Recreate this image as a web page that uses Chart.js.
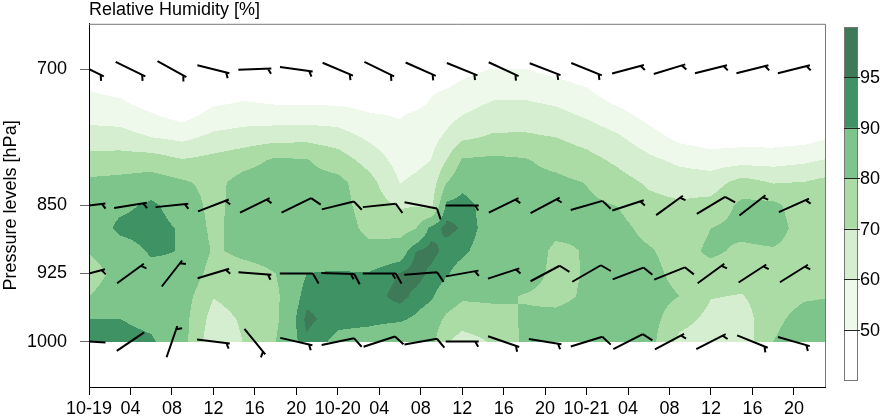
<!DOCTYPE html>
<html><head><meta charset="utf-8">
<script src="https://cdn.jsdelivr.net/npm/chart.js@4.4.1/dist/chart.umd.min.js"></script>
<style>html,body{margin:0;padding:0;background:#fff;}canvas{display:block;}</style>
</head><body>
<canvas id="c" width="880" height="418"></canvas>
<script>
// ---- data: relative humidity (%) at grid hours (from 10-19 00:00) and pressure levels ----
const gridHours = [0,3,6,9,12,15,18,21,24,27,30,31.5,33,34.5,36,39,42,45,48,51,54,57,60,63,66,69,71];
const levels = [700,725,750,775,800,825,850,875,900,925,950,975,1000];
const rh700  = [44,41,38,38,38,41,38,38,36,37,36,38,40,44,47,50.5,50.2,47,44,39,35,33,32,32,32,32,33];
const rh725  = [50.3,48,42,42,44.5,47,44.6,44.3,43,43,40,43,49.2,51,53.5,57.4,57.6,55.2,51.5,44,40,36,36,36,36,36,37];
const rh750  = [56.5,55.3,50.8,46,53,54.7,54.2,54.3,54.5,50.7,49.2,51.5,52.8,56,59.7,64.3,64.6,62.8,58.5,53.3,46.5,40,40,40,40,41,42];
const rh775  = [64.2,64,60,57.5,62.4,64.7,66.4,67,64.5,58.3,53,54.5,56.4,62,68.1,71.4,71.6,70,66.2,61.4,54.2,47.3,44.3,45.5,45,46,49];
const rh800  = [73.8,74.4,74.7,70.5,73,76.3,81.5,80.5,75.2,66,56.2,57.5,60,70,81,82,80.8,77,73.3,68,62.2,57.7,55.2,55.9,56,58,60.4];
const rh825  = [82,83,85,81.5,77,84,85,83,83,74,59.7,62,64.4,80,87,84,83,82.5,79.7,74,68.6,65.5,65.2,74.2,69.5,70.5,73];
const rh850  = [85,88,91.5,86,77,85,86.5,86,84,75.5,68.8,69.5,67,92,93.5,85,85,84,82,79.8,73,71.5,73.2,82.5,82.5,74,75];
const rh875  = [84,92,93,89,77.5,85,86,87,86,77,75.7,79.5,92.2,96.5,94.5,85.5,85,82,81,83,77,74,80,83,85,75,76];
const rh900  = [80.5,86,91,89.7,79,82,83,88.5,88,83,85.3,94.7,97,93,91.5,85,85,78.5,80.5,84,81,76,82,78,79,76,77];
const rh925  = [76,83,87.5,88.5,76,77,80,90,90.3,90.5,95.3,97.5,93.7,90.8,87,84,84,78,80.5,84,83,77,76,74,75,77,78];
const rh950  = [80,85,85,85,70.5,74,78,93,92.5,92.5,97,93.5,91,86,81.5,82,79.5,78,81,84,84,80,70.5,69.5,76,79,79.5];
const rh975  = [90,90,88,84,66,71.5,78,96.5,92,91.5,91,89,86,78,74.5,76,81,82,83,84,84,74,67,65,78,83,84];
const rh1000 = [92,92.5,91,84,63,70.5,80,94,88,87,84,85,83,71,66,71,82,84,84,84,84,67,64,64,80,85,85];

// ---- axes ----
const xTickHours  = [0,4,8,12,16,20,24,28,32,36,40,44,48,52,56,60,64,68];
const xTickLabels = ['10-19','04','08','12','16','20','10-20','04','08','12','16','20','10-21','04','08','12','16','20'];
const yTickLevels = [700,850,925,1000];

// ---- colour classes ----
const rhBreaks = [50,60,70,80,90,95];
const rhColors = ['#ffffff','#eef8eb','#d5eecf','#acdca6','#7dc58a','#3f9264','#3e7958'];

// ---- wind barbs: direction of staff (deg, clockwise from up) and speed ----
const barbHours  = [0,4,8,12,16,20,24,28,32,36,40,44,48,52,56,60,64,68];
const dir700  = [116,116,119,104,88,98,113,116,114,112,115,111,112,75,73,76,76,76];
const spd700  = [5,5,5,5,5,5,5,5,5,5,5,5,5,5,5,5,5,5];
const dir850  = [83,81,84,69,64,64,76,84,101,90,64,62,74,72,54,59,52,66];
const spd850  = [5,5,5,5,5,10,10,10,10,5,5,5,10,5,5,10,5,5];
const dir925  = [75,54,38,73,94,90,92,90,86,80,72,62,60,69,68,54,57,58];
const spd925  = [5,5,5,5,5,10,15,15,10,5,5,10,10,10,10,5,5,5];
const dir1000 = [273,56,19,97,141,103,78,72,80,90,109,99,73,63,62,63,112,106];
const spd1000 = [5,0,5,5,5,5,10,10,10,5,5,5,10,10,5,5,5,5];

const rhGrid = [rh700,rh725,rh750,rh775,rh800,rh825,rh850,rh875,rh900,rh925,rh950,rh975,rh1000];
const barbSets = [
  {p:700, dir:dir700, spd:spd700},
  {p:850, dir:dir850, spd:spd850},
  {p:925, dir:dir925, spd:spd925},
  {p:1000, dir:dir1000, spd:spd1000}
];

const FONT = "'Liberation Sans', Arial, Helvetica, sans-serif";
Chart.defaults.font.family = FONT;
Chart.defaults.font.size = 18;
Chart.defaults.color = '#000';

function hexToRgb(h){ return [parseInt(h.substr(1,2),16),parseInt(h.substr(3,2),16),parseInt(h.substr(5,2),16)]; }
const rgbColors = rhColors.map(hexToRgb);
function classOf(v){ let k=0; while(k<rhBreaks.length && v>=rhBreaks[k]) k++; return k; }
function segIndex(arr, v){ let i=0; while(i<arr.length-2 && v>arr[i+1]) i++; return i; }

const heatPlugin = {
  id:'heat',
  beforeDraw(chart){
    const {ctx, chartArea:a, scales:{x,y}} = chart;
    const yTop = Math.round(y.getPixelForValue(levels[0]));
    const yBot = Math.round(y.getPixelForValue(levels[levels.length-1]));
    const x0 = Math.round(a.left), x1 = Math.round(a.right);
    const w = x1-x0, h = yBot-yTop;
    const img = ctx.createImageData(w,h);
    const colI = [], colF = [];
    for(let px=0; px<w; px++){
      let t = x.getValueForPixel(x0+px+0.5);
      t = Math.max(gridHours[0], Math.min(gridHours[gridHours.length-1], t));
      const i = segIndex(gridHours,t);
      colI.push(i); colF.push((t-gridHours[i])/(gridHours[i+1]-gridHours[i]));
    }
    for(let py=0; py<h; py++){
      let p = y.getValueForPixel(yTop+py+0.5);
      p = Math.max(levels[0], Math.min(levels[levels.length-1], p));
      const j = segIndex(levels,p);
      const g = (p-levels[j])/(levels[j+1]-levels[j]);
      const r0 = rhGrid[j], r1 = rhGrid[j+1];
      for(let px=0; px<w; px++){
        const i = colI[px], f = colF[px];
        const a0 = r0[i]+(r0[i+1]-r0[i])*f;
        const a1 = r1[i]+(r1[i+1]-r1[i])*f;
        const v = a0+(a1-a0)*g;
        const c = rgbColors[classOf(v)];
        const o = (py*w+px)*4;
        img.data[o]=c[0]; img.data[o+1]=c[1]; img.data[o+2]=c[2]; img.data[o+3]=255;
      }
    }
    ctx.putImageData(img, x0, yTop);
  }
};

function drawBarb(ctx, cx, cy, bearing, speed){
  const L=16.5, FULL=11.5, HALF=6, SP=3.5;
  const r = bearing*Math.PI/180, ux=Math.sin(r), uy=-Math.cos(r);
  const fr = (bearing+60)*Math.PI/180, fx=Math.sin(fr), fy=-Math.cos(fr);
  const hx=cx+L*ux, hy=cy+L*uy;
  ctx.beginPath();
  ctx.moveTo(cx-L*ux, cy-L*uy); ctx.lineTo(hx,hy);
  const n10=Math.floor(speed/10), n5=(speed%10)>=5?1:0;
  let d=0;
  for(let k=0;k<n10;k++){ const bx=hx-d*ux, by=hy-d*uy; ctx.moveTo(bx,by); ctx.lineTo(bx+FULL*fx,by+FULL*fy); d+=SP; }
  if(n5){ if(n10===0) d=SP; const bx=hx-d*ux, by=hy-d*uy; ctx.moveTo(bx,by); ctx.lineTo(bx+HALF*fx,by+HALF*fy); }
  ctx.stroke();
}

const barbPlugin = {
  id:'barbs',
  afterDatasetsDraw(chart){
    const {ctx, chartArea:a, scales:{x,y}} = chart;
    ctx.save();
    ctx.beginPath(); ctx.rect(a.left, a.top, a.right-a.left, a.bottom-a.top); ctx.clip();
    ctx.strokeStyle='#000'; ctx.lineWidth=2; ctx.lineCap='butt'; ctx.lineJoin='miter';
    barbSets.forEach(s=>{
      barbHours.forEach((t,i)=>{
        drawBarb(ctx, x.getPixelForValue(t), y.getPixelForValue(s.p), s.dir[i], s.spd[i]);
      });
    });
    ctx.restore();
  }
};

const framePlugin = {
  id:'frame',
  afterDraw(chart){
    const {ctx, chartArea:a} = chart;
    ctx.save();
    ctx.strokeStyle='#777'; ctx.lineWidth=1;
    ctx.beginPath();
    ctx.moveTo(a.left, a.top+0.5); ctx.lineTo(a.right+0.5, a.top+0.5); ctx.lineTo(a.right+0.5, a.bottom);
    ctx.stroke();
    ctx.fillStyle='#000'; ctx.font='18px '+FONT; ctx.textAlign='left'; ctx.textBaseline='alphabetic';
    ctx.fillText('Relative Humidity [%]', a.left, 15);
    const cbL=844, cbR=857, cbT=27, cbB=380;
    const n=rhColors.length, bh=(cbB-cbT)/n;
    for(let k=0;k<n;k++){
      ctx.fillStyle=rhColors[k];
      ctx.fillRect(cbL, cbB-(k+1)*bh, cbR-cbL, bh);
    }
    ctx.strokeStyle='#777'; ctx.lineWidth=1;
    ctx.strokeRect(cbL+0.5, cbT+0.5, cbR-cbL, cbB-cbT);
    ctx.strokeStyle='#222';
    ctx.fillStyle='#000'; ctx.textBaseline='middle'; ctx.textAlign='left';
    rhBreaks.forEach((b,k)=>{
      const yy = Math.round(cbB-(k+1)*bh)+0.5;
      ctx.beginPath(); ctx.moveTo(cbL, yy); ctx.lineTo(cbR+3, yy); ctx.stroke();
      ctx.fillText(String(b), cbR+3, yy+1);
    });
    ctx.restore();
  }
};

const stationPoints = [];
barbSets.forEach(s=>barbHours.forEach(t=>stationPoints.push({x:t,y:s.p})));

new Chart(document.getElementById('c'), {
  type:'scatter',
  data:{ datasets:[{ label:'wind', data:stationPoints, pointRadius:0, showLine:false }] },
  options:{
    responsive:false, animation:false, devicePixelRatio:1,
    layout:{ padding:{ top:20, right:55, left:0, bottom:0 } },
    plugins:{ legend:{display:false}, tooltip:{enabled:false}, title:{display:false} },
    scales:{
      x:{
        type:'linear', min:0, max:71,
        afterBuildTicks:s=>{ s.ticks = xTickHours.map(v=>({value:v})); },
        afterFit:s=>{ s.height = 31; },
        ticks:{ callback:(v,i)=>xTickLabels[i], autoSkip:false, maxRotation:0, minRotation:0, padding:3, color:'#000', font:{size:18} },
        grid:{ drawOnChartArea:false, drawTicks:true, tickLength:8, tickColor:'#000', tickWidth:1 },
        border:{ display:true, color:'#000', width:1 }
      },
      y:{
        type:'linear', reverse:true, min:650, max:1050,
        afterBuildTicks:s=>{ s.ticks = yTickLevels.map(v=>({value:v})); },
        afterFit:s=>{ s.width = 89; },
        ticks:{ callback:v=>String(v), autoSkip:false, padding:13, color:'#000', font:{size:18} },
        grid:{ drawOnChartArea:false, drawTicks:true, tickLength:9, tickColor:'#666', tickWidth:1 },
        border:{ display:true, color:'#000', width:1 },
        title:{ display:true, text:'Pressure levels [hPa]', color:'#000', font:{size:18}, padding:0 }
      }
    }
  },
  plugins:[heatPlugin, barbPlugin, framePlugin]
});
</script>
</body></html>
